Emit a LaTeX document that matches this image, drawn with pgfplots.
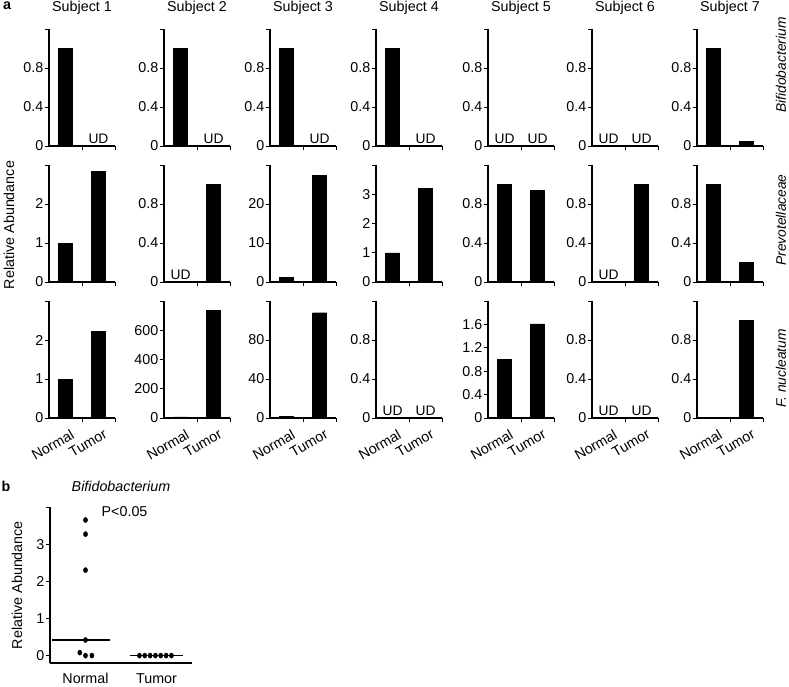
\documentclass[border=0pt]{standalone}
\usepackage{fontspec}
\setmainfont{Liberation Sans}
\usepackage{pgfplots}
\pgfplotsset{compat=1.18}
\newcommand{\fs}{\fontsize{14.3}{16}\selectfont}

\pgfplotsset{
  small/.style={
    anchor=south west, scale only axis, width=66pt, height=117pt,
    axis x line=bottom, axis y line=left,
    axis line style={-, line width=1.1pt},
    xmin=0, xmax=2, ymin=0, ymax=1.2,
    ytick={0,0.4,0.8,1.2}, yticklabels={0,0.4,0.8,},
    xtick={0.5,1.5}, xticklabels={},
    minor xtick={1,2},
    tick align=outside,
    major tick length=4pt, minor tick length=4pt,
    every tick/.style={black, line width=0.9pt},
    major x tick style={draw=none},
    tick label style={font=\fs},
    yticklabel style={inner sep=1.5pt},
    /pgf/number format/assume math mode=true,
    clip=false,
  },
  bottom/.style={
    xticklabels={Normal,Tumor},
    xticklabel style={xshift=5pt, yshift=-5pt, rotate=30, anchor=north east, inner sep=1pt},
  },
  bar/.style={ybar, bar width=14pt, bar shift=0pt, fill=black, draw=black},
  subj/.style={title={#1}, title style={at={(0.5,1)}, anchor=base, yshift=12pt, font=\fs}},
}
\newcommand{\ud}[1]{\node[anchor=south, inner sep=1pt, yshift=1.5pt, font=\fontsize{13.8}{15}\selectfont] at (axis cs:#1,0) {UD};}

\begin{document}
\begin{tikzpicture}[font=\fs]
\useasboundingbox (0,0) rectangle (789pt,-686pt);

% ---- panel a, row 1: Bifidobacterium
\begin{axis}[small, subj={Subject 1}, at={(49pt,-146pt)}]
  \addplot[bar] coordinates {(0.5,1)};
  \ud{1.5}
\end{axis}
\begin{axis}[small, subj={Subject 2}, at={(164pt,-146pt)}]
  \addplot[bar] coordinates {(0.5,1)};
  \ud{1.5}
\end{axis}
\begin{axis}[small, subj={Subject 3}, at={(270pt,-146pt)}]
  \addplot[bar] coordinates {(0.5,1)};
  \ud{1.5}
\end{axis}
\begin{axis}[small, subj={Subject 4}, at={(376pt,-146pt)}]
  \addplot[bar] coordinates {(0.5,1)};
  \ud{1.5}
\end{axis}
\begin{axis}[small, subj={Subject 5}, at={(488pt,-146pt)}]
  \ud{0.5}
  \ud{1.5}
\end{axis}
\begin{axis}[small, subj={Subject 6}, at={(592pt,-146pt)}]
  \ud{0.5}
  \ud{1.5}
\end{axis}
\begin{axis}[small, subj={Subject 7}, at={(697pt,-146pt)}]
  \addplot[bar] coordinates {(0.5,1)(1.5,0.05)};
\end{axis}

% ---- row 2: Prevotellaceae
\begin{axis}[small, at={(49pt,-282pt)}, ymax=3, ytick={0,1,2,3}, yticklabels={0,1,2,}]
  \addplot[bar] coordinates {(0.5,1)(1.5,2.84)};
\end{axis}
\begin{axis}[small, at={(164pt,-282pt)}]
  \addplot[bar] coordinates {(1.5,1)};
  \ud{0.5}
\end{axis}
\begin{axis}[small, at={(270pt,-282pt)}, ymax=30, ytick={0,10,20,30}, yticklabels={0,10,20,}]
  \addplot[bar] coordinates {(0.5,1.2)(1.5,27.4)};
\end{axis}
\begin{axis}[small, at={(376pt,-282pt)}, ymax=4, ytick={0,1,2,3,4}, yticklabels={0,1,2,3,}]
  \addplot[bar] coordinates {(0.5,1)(1.5,3.2)};
\end{axis}
\begin{axis}[small, at={(488pt,-282pt)}]
  \addplot[bar] coordinates {(0.5,1)(1.5,0.94)};
\end{axis}
\begin{axis}[small, at={(592pt,-282pt)}]
  \addplot[bar] coordinates {(1.5,1)};
  \ud{0.5}
\end{axis}
\begin{axis}[small, at={(697pt,-282pt)}]
  \addplot[bar] coordinates {(0.5,1)(1.5,0.2)};
\end{axis}

% ---- row 3: F. nucleatum
\begin{axis}[small, bottom, at={(49pt,-418pt)}, ymax=3, ytick={0,1,2,3}, yticklabels={0,1,2,}]
  \addplot[bar] coordinates {(0.5,1)(1.5,2.23)};
\end{axis}
\begin{axis}[small, bottom, at={(164pt,-418pt)}, ymax=800, ytick={0,200,400,600,800}, yticklabels={0,200,400,600,}]
  \addplot[bar] coordinates {(0.5,8)(1.5,735)};
\end{axis}
\begin{axis}[small, bottom, at={(270pt,-418pt)}, ymax=120, ytick={0,40,80,120}, yticklabels={0,40,80,}]
  \addplot[bar] coordinates {(0.5,1.5)(1.5,108)};
\end{axis}
\begin{axis}[small, bottom, at={(376pt,-418pt)}]
  \ud{0.5}
  \ud{1.5}
\end{axis}
\begin{axis}[small, bottom, at={(488pt,-418pt)}, ymax=2, ytick={0,0.4,0.8,1.2,1.6,2}, yticklabels={0,0.4,0.8,1.2,1.6,}]
  \addplot[bar] coordinates {(0.5,1)(1.5,1.61)};
\end{axis}
\begin{axis}[small, bottom, at={(592pt,-418pt)}]
  \ud{0.5}
  \ud{1.5}
\end{axis}
\begin{axis}[small, bottom, at={(697pt,-418pt)}]
  \addplot[bar] coordinates {(1.5,1)};
\end{axis}

\node[font=\bfseries\fs] at (7pt,-6pt) {a};
\node[rotate=90] at (9pt,-225pt) {Relative Abundance};
\node[rotate=90, font=\itshape\fontsize{13.8}{15}\selectfont] at (781pt,-65pt) {Bifidobacterium};
\node[rotate=90, font=\itshape\fontsize{13.8}{15}\selectfont] at (781pt,-220pt) {Prevotellaceae};
\node[rotate=90, font=\itshape\fontsize{13.8}{15}\selectfont] at (781pt,-368pt) {F. nucleatum};

% ---- panel b
\node[font=\bfseries\fs] at (6pt,-486pt) {b};
\begin{axis}[at={(50pt,-663pt)}, anchor=south west, scale only axis,
    width=142pt, height=156pt,
    axis x line=bottom, axis y line=left,
    axis line style={-, line width=1.1pt},
    xmin=0.5, xmax=2.5, ymin=-0.2, ymax=4,
    ytick={0,1,2,3,4}, yticklabels={0,1,2,3,},
    xtick={1,2}, xticklabels={Normal,Tumor},
    tick align=outside, major tick length=4pt,
    every tick/.style={black, line width=0.9pt},
    major x tick style={draw=none},
    tick label style={font=\fs},
    yticklabel style={inner sep=1.5pt},
    xticklabel style={anchor=north, inner sep=1pt, yshift=-5pt},
    ylabel={Relative Abundance},
    ylabel style={at={(axis description cs:-0.232,0.5)}, anchor=center},
    title={\itshape Bifidobacterium},
    title style={at={(0.5,1)}, anchor=base, yshift=10pt, font=\fs},
    /pgf/number format/assume math mode=true,
    clip=false]
  \addplot[black, line width=1.5pt] coordinates {(0.53,0.42)(1.35,0.42)};
  \addplot[black, line width=1.5pt] coordinates {(1.63,0)(2.37,0)};
  \addplot[only marks, mark=*, mark size=2.6pt, mark options={xscale=0.8, fill=black, draw=black}]
    coordinates {(1,3.65)(1,3.27)(1,2.3)(1,0.42)(0.92,0.08)(1,0)(1.09,0)};
  \addplot[only marks, mark=*, mark size=2.6pt, mark options={xscale=0.8, fill=black, draw=black}]
    coordinates {(1.76,0)(1.835,0)(1.91,0)(1.985,0)(2.06,0)(2.135,0)(2.21,0)};
  \node[font=\fs] at (axis cs:1.55,3.88) {P<0.05};
\end{axis}
\end{tikzpicture}
\end{document}
